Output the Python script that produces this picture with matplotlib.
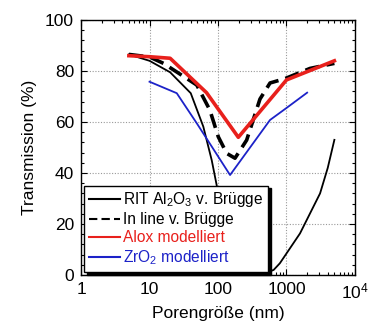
import matplotlib
matplotlib.use("Agg")
import matplotlib.pyplot as plt
from matplotlib.ticker import LogLocator, NullFormatter, MultipleLocator, FixedLocator, FixedFormatter

plt.rcParams['font.family'] = ['Liberation Sans', 'DejaVu Sans']
plt.rcParams['mathtext.default'] = 'regular'

# RIT Al2O3 v. Bruegge (thin black)
rit_x = [5, 10, 20, 40, 61, 81, 96, 110, 130, 170, 250, 400, 500, 650, 800, 1574, 3090, 4000, 5000]
rit_y = [86.5, 84, 79.5, 71.3, 58.2, 45, 35, 25, 15, 7, 3, 1, 0.8, 2, 4.6, 16.3, 32, 42, 53]

# In line v. Bruegge (dashed black)
inline_x = [5, 10, 16, 49, 76, 101, 134, 177, 262, 410, 575, 950, 2200, 5000]
inline_y = [86.5, 85.5, 83, 74.5, 64.7, 54.2, 47.7, 45.8, 52.9, 69, 75.3, 77, 81, 83]

# Alox modelliert (red)
alox_x = [5, 10, 20, 68, 198, 1000, 5000]
alox_y = [86, 85.6, 85, 71.5, 54, 76.5, 84]

# ZrO2 modelliert (blue)
zro_x = [10, 25, 49, 150, 575, 1000, 2000]
zro_y = [75.8, 71.3, 59.5, 39.2, 60.8, 65.5, 71.5]

labels = ['RIT Al$_2$O$_3$ v. Brügge', 'In line v. Brügge', 'Alox modelliert', 'ZrO$_2$ modelliert']

fig = plt.figure(figsize=(3.76, 3.27), dpi=100)
ax = fig.add_axes([81 / 376, 52 / 327, 274 / 376, 255 / 327])

ax.plot(rit_x, rit_y, color='black', lw=1.3, label=labels[0])
ax.plot(inline_x, inline_y, color='black', lw=2.6, dashes=(4, 2), label=labels[1])
ax.plot(alox_x, alox_y, color='#e8201c', lw=2.6, label=labels[2])
ax.plot(zro_x, zro_y, color='#1c22c8', lw=1.3, label=labels[3])

ax.set_xscale('log')
ax.set_xlim(1, 1e4)
ax.set_ylim(0, 100)
ax.xaxis.set_major_locator(FixedLocator([1, 10, 100, 1000, 10000]))
ax.xaxis.set_major_formatter(FixedFormatter(['1', '10', '100', '1000', '10$^4$']))
ax.xaxis.set_minor_locator(LogLocator(base=10, subs=range(2, 10)))
ax.xaxis.set_minor_formatter(NullFormatter())
ax.yaxis.set_major_locator(MultipleLocator(20))
ax.yaxis.set_minor_locator(MultipleLocator(4))

ax.tick_params(which='both', direction='in', top=True, right=True, labelsize=12.5, width=0.8)
ax.tick_params(which='major', length=4, pad=5)
ax.tick_params(which='minor', length=2)
ax.grid(True, which='major', color='#999999', ls=(0, (1, 1.5)), lw=0.8)
for s in ax.spines.values():
    s.set_linewidth(1.0)

ax.set_xlabel('Porengröße (nm)', fontsize=12.5, labelpad=3)
ax.set_ylabel('Transmission (%)', fontsize=12.5, labelpad=6)

leg = ax.legend(loc='lower left', bbox_to_anchor=(0.012, 0.012), fontsize=11.2, frameon=True,
                fancybox=False, shadow={'color': 'black', 'alpha': 1}, framealpha=1,
                edgecolor='black', handlelength=2.0, handletextpad=0.2, labelspacing=0.2,
                borderpad=0.3, borderaxespad=0.0)
leg.get_frame().set_linewidth(1.0)
for line in leg.get_lines():
    line.set_linewidth(1.5)
leg.get_texts()[2].set_color('#e8201c')
leg.get_texts()[3].set_color('#1c22c8')

fig.savefig('out.png', dpi=100)
